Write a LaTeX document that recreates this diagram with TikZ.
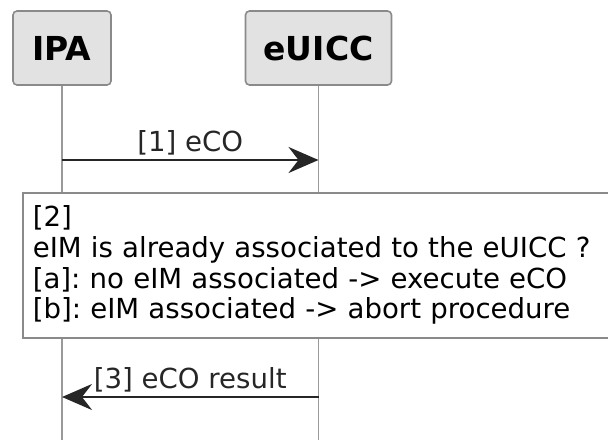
\documentclass[tikz,border=0pt]{standalone}
\usepackage{fontspec}
\setmainfont{DejaVu Sans}
\usetikzlibrary{arrows.meta, positioning}
\frenchspacing

\definecolor{partfill}{HTML}{E2E2E2}
\definecolor{partline}{HTML}{8A8A8A}
\definecolor{lifegray}{HTML}{9A9A9A}

\begin{document}
\begin{tikzpicture}[
    x=0.5pt, y=-0.5pt,
    partnode/.style = {rectangle, rounded corners=2pt, draw=partline, line width=0.8pt, fill=partfill, minimum height=37pt, font=\fontsize{16.5}{20}\selectfont\bfseries},
    notenode/.style = {rectangle, draw=partline, line width=0.8pt, fill=white, align=left, text width=295pt, inner xsep=5pt, minimum height=72.5pt, font=\fontsize{13.8}{15.35}\selectfont, anchor=north west},
    lifeline/.style = {draw=lifegray, line width=0.8pt},
    msg/.style = {-{Stealth[length=15pt, width=13pt, inset=5pt]}, line width=1.2pt, black!85},
    msglabel/.style = {font=\fontsize{13.8}{16}\selectfont, anchor=base, yshift=4.3pt, inner sep=0pt}
]
\useasboundingbox (0,0) rectangle (608,439);
\clip (0,0) rectangle (608,439);

\node [partnode, minimum width=49pt] (ipa) at (62,48) {IPA};
\node [partnode, minimum width=73pt] (euicc) at (318.5,48) {eUICC};

\coordinate (ipaend) at (62,440);
\coordinate (euiccend) at (318.5,440);
\draw[lifeline] (ipa) -- (ipaend);
\draw[lifeline] (euicc) -- (euiccend);

\coordinate (ipa1) at (62,160);
\coordinate (euicc1) at (318.5,160);
\draw[msg] (ipa1) -- node[msglabel] {[1] eCO} (euicc1);

\node [notenode] (note) at (22,192) {[2]\\eIM is already associated to the eUICC ?\\{}[a]: no eIM associated -> execute eCO\\{}[b]: eIM associated -> abort procedure};

\coordinate (ipa3) at (62,397);
\coordinate (euicc3) at (318.5,397);
\draw[msg] (euicc3) -- node[msglabel] {[3] eCO result} (ipa3);

\end{tikzpicture}
\end{document}
